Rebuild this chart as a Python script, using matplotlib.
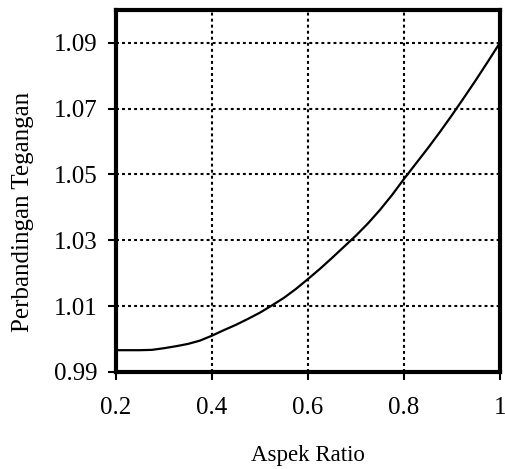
import numpy as np
import matplotlib.pyplot as plt

plt.rcParams['font.family'] = ['Liberation Serif', 'DejaVu Serif']

# data
aspek_ratio = [0.2, 0.225, 0.25, 0.275, 0.3, 0.325, 0.35, 0.375, 0.4, 0.425,
               0.45, 0.475, 0.5, 0.525, 0.55, 0.575, 0.6, 0.625, 0.65, 0.675,
               0.7, 0.725, 0.75, 0.775, 0.8, 0.825, 0.85, 0.875, 0.9, 0.925,
               0.95, 0.975, 1.0]
perbandingan = [0.9966, 0.9966, 0.9966, 0.9967, 0.9972, 0.9978, 0.9985, 0.9995, 1.0010, 1.0027,
                1.0043, 1.0061, 1.0080, 1.0102, 1.0125, 1.0152, 1.0182, 1.0213, 1.0246, 1.0280,
                1.0314, 1.0351, 1.0392, 1.0437, 1.0486, 1.0533, 1.0580, 1.0629, 1.0680, 1.0733,
                1.0787, 1.0843, 1.0900]
x_ticks = [0.2, 0.4, 0.6, 0.8, 1.0]
x_labels = ['0.2', '0.4', '0.6', '0.8', '1']
y_ticks = [0.99, 1.01, 1.03, 1.05, 1.07, 1.09]

fig = plt.figure(figsize=(5.06, 4.69), dpi=100)
ax = fig.add_axes([0.229, 0.207, 0.759, 0.772])

ax.plot(aspek_ratio, perbandingan, color='black', lw=1.6)

ax.set_xlim(0.2, 1.0)
ax.set_ylim(0.99, 1.10)
ax.set_xticks(x_ticks)
ax.set_xticklabels(x_labels)
ax.set_yticks(y_ticks)
ax.set_yticklabels(['%.2f' % v for v in y_ticks])

ax.grid(True, color='black', linestyle=(0, (1.4, 1.5)), lw=1.5)
for s in ax.spines.values():
    s.set_linewidth(3)
ax.tick_params(direction='out', length=6, width=1.5, labelsize=18)
ax.tick_params(axis='x', pad=12)
ax.tick_params(axis='y', pad=7)

ax.set_xlabel('Aspek Ratio', fontsize=16.5, labelpad=19)
ax.set_ylabel('Perbandingan Tegangan', fontsize=18)
ax.yaxis.set_label_coords(-0.214, 0.442)

fig.savefig('out.png', dpi=100)
